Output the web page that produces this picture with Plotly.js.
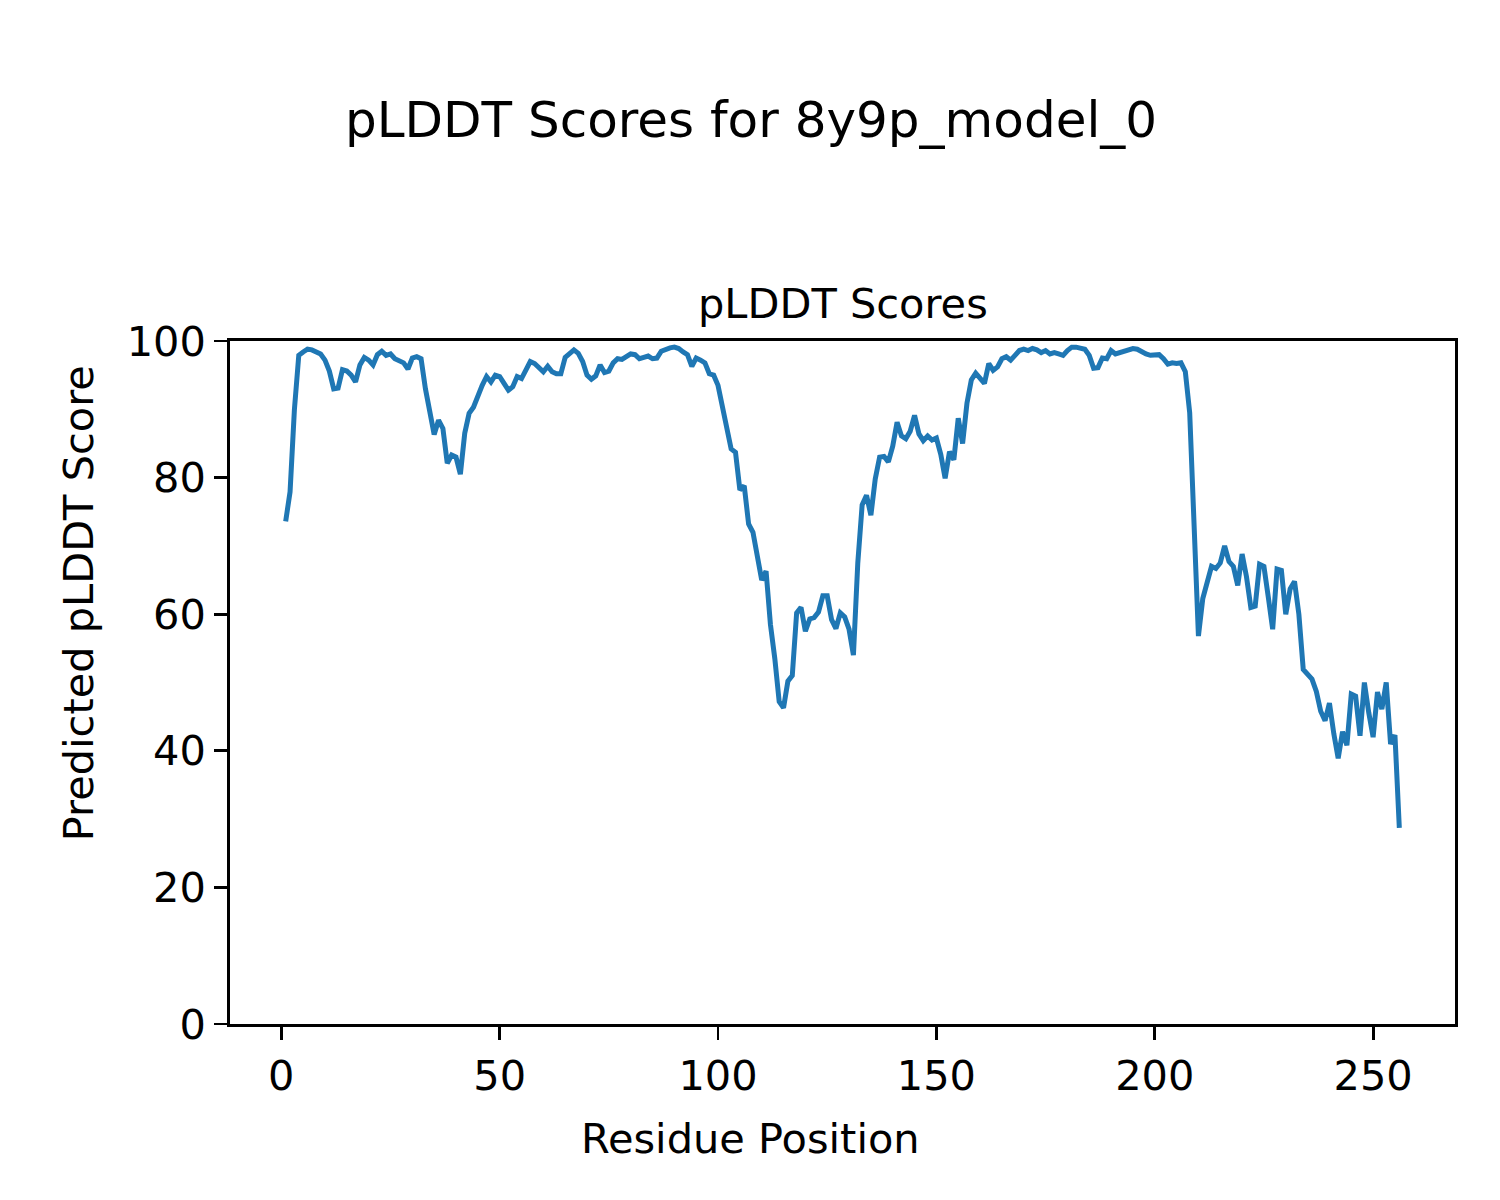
<!DOCTYPE html>
<html>
<head>
<meta charset="utf-8">
<script src="https://cdn.plot.ly/plotly-3.0.1.min.js"></script>
<style>html,body{margin:0;padding:0;background:#fff;}#chart{width:1500px;height:1200px;}</style>
</head>
<body>
<div id="chart"></div>
<script>
const figureTitle = "pLDDT Scores for 8y9p_model_0";
const axesTitle = "pLDDT Scores";
const xLabel = "Residue Position";
const yLabel = "Predicted pLDDT Score";
const xTicks = [0, 50, 100, 150, 200, 250];
const yTicks = [0, 20, 40, 60, 80, 100];

const residues = [];
for (let i = 1; i <= 256; i++) residues.push(i);

const plddt = [
  73.6, 77.9, 90.0, 97.9, 98.4, 98.8, 98.7, 98.3, 98.1, 97.2,
  95.6, 93.0, 93.1, 95.8, 95.6, 95.0, 94.0, 96.5, 97.6, 97.2,
  96.5, 98.0, 98.5, 97.9, 98.1, 97.4, 97.0, 96.8, 95.9, 97.5,
  97.7, 97.4, 93.0, 89.3, 86.3, 88.4, 87.2, 82.1, 83.3, 83.0,
  80.5, 86.5, 89.4, 90.3, 92.0, 93.5, 94.8, 94.0, 95.0, 94.8,
  93.8, 92.8, 93.3, 94.8, 94.5, 95.6, 97.0, 96.7, 96.1, 95.5,
  96.3, 95.5, 95.2, 95.2, 97.6, 98.2, 98.7, 98.2, 97.0, 95.0,
  94.4, 94.9, 96.5, 95.4, 95.6, 96.8, 97.4, 97.3, 97.6, 98.1,
  98.0, 97.4, 97.6, 97.8, 97.4, 97.5, 98.5, 98.8, 99.0, 99.1,
  98.9, 98.4, 98.0, 96.3, 97.5, 97.2, 96.8, 95.2, 95.0, 93.5,
  90.5, 87.3, 84.2, 83.7, 78.2, 78.8, 73.2, 72.0, 68.2, 65.0,
  66.3, 58.5, 53.5, 47.2, 46.3, 50.2, 51.0, 60.2, 61.0, 57.5,
  59.3, 59.5, 60.3, 62.7, 62.7, 59.2, 57.9, 60.2, 59.6, 57.8,
  54.0, 67.5, 76.0, 77.4, 74.5, 79.8, 83.0, 83.1, 82.3, 84.6,
  88.1, 86.1, 85.7, 86.8, 89.1, 86.4, 85.4, 86.1, 85.5, 85.8,
  83.4, 79.9, 83.8, 82.6, 88.7, 85.0, 90.9, 94.3, 95.3, 94.5,
  93.8, 96.7, 95.7, 96.2, 97.4, 97.7, 97.2, 97.9, 98.6, 98.8,
  98.6, 98.9, 98.7, 98.3, 98.6, 98.1, 98.3, 98.1, 97.9, 98.6,
  99.1, 99.1, 99.0, 98.8, 97.9, 96.0, 96.1, 97.5, 97.4, 98.6,
  98.1, 98.3, 98.5, 98.7, 98.9, 98.8, 98.4, 98.1, 97.9, 98.0,
  98.0, 97.4, 96.6, 96.8, 96.7, 96.8, 95.5, 89.5, 72.0, 56.8,
  62.3, 65.0, 67.0, 66.7, 67.5, 70.0, 67.7, 67.0, 64.2, 68.8,
  65.5, 61.0, 61.2, 67.3, 67.0, 62.5, 57.8, 66.6, 66.4, 60.0,
  63.7, 64.8, 60.0, 51.9, 51.2, 50.5, 48.7, 45.8, 44.4, 47.0,
  42.5, 38.9, 42.8, 40.8, 48.3, 48.0, 42.2, 50.0, 45.6, 42.0,
  48.6, 46.1, 50.0, 41.0, 42.3, 28.7
];

const FONT = "DejaVu Sans, sans-serif";

const trace = {
  x: residues,
  y: plddt,
  type: "scatter",
  mode: "lines",
  line: {color: "#1f77b4", width: 5},
  hoverinfo: "x+y",
  showlegend: false
};

const axisCommon = {
  showgrid: false,
  zeroline: false,
  showline: true,
  linecolor: "#000",
  linewidth: 2.8,
  mirror: true,
  ticks: "outside",
  ticklen: 13,
  tickwidth: 2.8,
  tickcolor: "#000",
  tickfont: {family: FONT, size: 41.5, color: "#000"},
  tickmode: "array"
};

const layout = {
  width: 1500,
  height: 1200,
  paper_bgcolor: "#fff",
  plot_bgcolor: "#fff",
  margin: {l: 230, r: 45, t: 341, b: 176, pad: 0},
  font: {family: FONT, color: "#000"},
  xaxis: Object.assign({}, axisCommon, {
    range: [-11.75, 268.75],
    tickvals: xTicks,
    ticktext: xTicks.map(String)
  }),
  yaxis: Object.assign({}, axisCommon, {
    range: [0, 100],
    tickvals: yTicks,
    ticktext: yTicks.map(String)
  }),
  annotations: [
    {text: figureTitle, xref: "paper", yref: "paper", x: 0.425, y: 1, yshift: 221,
     xanchor: "center", yanchor: "middle", showarrow: false,
     font: {family: FONT, size: 50, color: "#000"}},
    {text: axesTitle, xref: "paper", yref: "paper", x: 0.5, y: 1, yshift: 38,
     xanchor: "center", yanchor: "middle", showarrow: false,
     font: {family: FONT, size: 41.5, color: "#000"}},
    {text: xLabel, xref: "paper", yref: "paper", x: 0.425, y: 0, yshift: -114,
     xanchor: "center", yanchor: "middle", showarrow: false,
     font: {family: FONT, size: 41.5, color: "#000"}},
    {text: yLabel, xref: "paper", yref: "paper", x: 0, y: 0.616, xshift: -152,
     xanchor: "center", yanchor: "middle", showarrow: false, textangle: -90,
     font: {family: FONT, size: 41.5, color: "#000"}}
  ]
};

Plotly.newPlot("chart", [trace], layout, {displayModeBar: false, staticPlot: true});
</script>
</body>
</html>
